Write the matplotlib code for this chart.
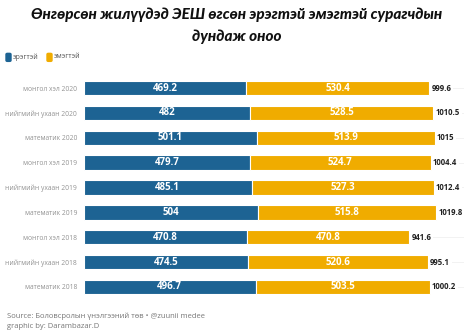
import matplotlib
matplotlib.use("Agg")
import matplotlib.pyplot as plt
import numpy as np
from matplotlib.patches import FancyBboxPatch

categories = ["монгол хэл 2020", "нийгмийн ухаан 2020", "математик 2020",
              "монгол хэл 2019", "нийгмийн ухаан 2019", "математик 2019",
              "монгол хэл 2018", "нийгмийн ухаан 2018", "математик 2018"]
male = [469.2, 482, 501.1, 479.7, 485.1, 504, 470.8, 474.5, 496.7]
female = [530.4, 528.5, 513.9, 524.7, 527.3, 515.8, 470.8, 520.6, 503.5]
totals = [999.6, 1010.5, 1015, 1004.4, 1012.4, 1019.8, 941.6, 995.1, 1000.2]
series_names = ["эрэгтэй", "эмэгтэй"]

BLUE = "#1d6393"
GOLD = "#f0ac00"

fig = plt.figure(figsize=(4.74, 3.36), dpi=100)
ax = fig.add_axes([0.177, 0.109, 0.802, 0.666])

y = np.arange(len(categories))
h = 0.58
for yi in y:
    ax.axhline(yi, color="#f0f0f0", lw=0.6, zorder=0)
ax.barh(y, male, height=h, color=BLUE, edgecolor="white", linewidth=0.8, zorder=2)
ax.barh(y, female, left=male, height=h, color=GOLD, edgecolor="white", linewidth=0.8, zorder=2)

for yi, m, f, t in zip(y, male, female, totals):
    ax.text(m / 2, yi, f"{m:g}", ha="center", va="center", color="white",
            fontsize=7, fontweight="bold", family="Open Sans", zorder=3)
    ax.text(m + f / 2, yi, f"{f:g}", ha="center", va="center", color="white",
            fontsize=7, fontweight="bold", family="Open Sans", zorder=3)
    ax.text(m + f + 6, yi, f"{t:g}", ha="left", va="center", color="#222222",
            fontsize=5.6, fontweight="bold", family="Open Sans", zorder=3,
            bbox=dict(facecolor="white", edgecolor="none", pad=1.5))

ax.set_xlim(0, 1100)
ax.set_ylim(len(categories) - 0.5, -0.5)
ax.set_yticks(y)
ax.set_yticklabels(categories, fontsize=4.9, color="#939393", family="Open Sans")
ax.tick_params(axis="y", length=0, pad=5)
ax.set_xticks([])
for s in ax.spines.values():
    s.set_visible(False)

fig.text(0.5, 0.955, "Өнгөрсөн жилүүдэд ЭЕШ өгсөн эрэгтэй эмэгтэй сурагчдын",
         ha="center", va="center", fontsize=11, fontweight="black",
         style="italic", family="Lato", color="#111111")
fig.text(0.5, 0.89, "дундаж оноо", ha="center", va="center", fontsize=11,
         fontweight="black", style="italic", family="Lato", color="#111111")

# legend
lx, ly = 6 / 474, 1 - 57 / 336
for i, (name, col) in enumerate(zip(series_names, [BLUE, GOLD])):
    x0 = lx + i * 41 / 474
    fig.patches.append(FancyBboxPatch((x0, ly - 0.013), 5 / 474, 8 / 336,
                                      boxstyle="round,pad=0,rounding_size=0.003",
                                      transform=fig.transFigure, color=col))
    fig.text(x0 + 7 / 474, ly, name, ha="left", va="center", fontsize=5,
             color="#555555", family="Open Sans")

fig.text(7 / 474, 1 - 316 / 336, "Source: Боловсролын үнэлгээний төв • @zuunii medee",
         ha="left", va="center", fontsize=5.5, color="#777777", family="Open Sans")
fig.text(7 / 474, 1 - 327 / 336, "graphic by: Darambazar.D",
         ha="left", va="center", fontsize=5.5, color="#777777", family="Open Sans")

fig.savefig("out.png", dpi=100)
